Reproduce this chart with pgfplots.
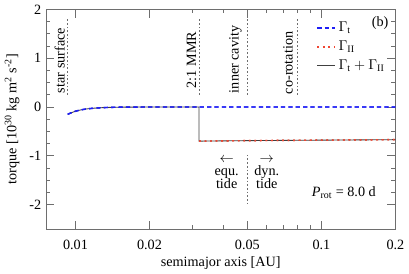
\documentclass[border=0pt]{standalone}
\usepackage{pgfplots}
\pgfplotsset{compat=1.18}
\usepackage{fontspec}
\setmainfont{Liberation Serif}
\definecolor{gblue}{RGB}{30,30,245}
\definecolor{gred}{RGB}{240,70,50}
\definecolor{axgray}{RGB}{110,110,110}
\begin{document}
\begin{tikzpicture}
\begin{axis}[
  scale only axis, width=246pt, height=154.6pt,
  xmode=log, xmin=0.0076, xmax=0.2, ymin=-2.5, ymax=2,
  xtick={0.01,0.02,0.05,0.1,0.2}, xticklabels={0.01,0.02,0.05,0.1,0.2},
  minor xtick={0.03,0.04,0.06,0.07,0.08,0.09},
  ytick={-2,-1,0,1,2}, yticklabels={-2,-1,0,1,2},
  minor y tick num=3,
  tick align=inside, major tick length=5.9pt, minor tick length=2.8pt,
  axis line style={axgray}, tick style={axgray, line width=0.5pt},
  /pgf/number format/assume math mode=true,
  xticklabel style={yshift=-4pt},
  xlabel={semimajor axis [AU]},
  xlabel style={yshift=2pt},
  ylabel={torque [10\textsuperscript{30} kg m\textsuperscript{2} s\textsuperscript{-2}]},
  legend style={draw=none, fill=none, at={(0.99,0.97)}, anchor=north east, row sep=1pt},
  legend cell align=left,
  legend image code/.code={\draw[#1] (0cm,0cm) -- (0.44cm,0cm);},
]
% vertical markers
\draw[axgray, line width=0.5pt, dash pattern=on 1.2pt off 1.4pt] (axis cs:0.0093,0.25) -- (axis cs:0.0093,1.8);
\draw[axgray, line width=0.5pt, dash pattern=on 1.2pt off 1.4pt] (axis cs:0.0318,0.25) -- (axis cs:0.0318,1.8);
\draw[axgray, line width=0.5pt, dash pattern=on 1.2pt off 1.4pt] (axis cs:0.05,0.25) -- (axis cs:0.05,1.8);
\draw[axgray, line width=0.5pt, dash pattern=on 1.2pt off 1.4pt] (axis cs:0.08,0.25) -- (axis cs:0.08,1.8);
\draw[axgray, line width=0.5pt, dash pattern=on 1.2pt off 1.4pt] (axis cs:0.05,-0.98) -- (axis cs:0.05,-2.02);
\node[rotate=90, anchor=base west, inner sep=0pt] at ([xshift=-2.1pt]axis cs:0.0093,0.28) {star surface};
\node[rotate=90, anchor=base west, inner sep=0pt] at ([xshift=-2.1pt]axis cs:0.0318,0.38) {2:1 MMR};
\node[rotate=90, anchor=base west, inner sep=0pt] at ([xshift=-6.2pt]axis cs:0.05,0.28) {inner cavity};
\node[rotate=90, anchor=base west, inner sep=0pt] at ([xshift=-3.5pt]axis cs:0.08,0.26) {co-rotation};
\node[align=center, font=\fontsize{10}{9.3}\selectfont] at (axis cs:0.0412,-1.35) {$\leftarrow$\\equ.\\tide};
\node[align=center, font=\fontsize{10}{9.3}\selectfont] at (axis cs:0.0600,-1.35) {$\rightarrow$\\dyn.\\tide};
\node at (axis cs:0.1234,-1.75) {\textit{P}\textsubscript{rot} = 8.0 d};
\node[anchor=north east, inner sep=1pt] at (axis description cs:0.985,0.975) {(b)};

\addplot[gblue, line width=1pt, dash pattern=on 3pt off 2.2pt] coordinates {
 (0.0093,-0.15) (0.0096,-0.12) (0.0100,-0.087) (0.0105,-0.060) (0.0111,-0.040)
 (0.0118,-0.026) (0.0127,-0.015) (0.0140,-0.007) (0.0160,-0.003) (0.0190,-0.001)
 (0.0250,0) (0.0318,0) (0.05,0) (0.1,0) (0.2,0)};
\addlegendentry{$\Gamma_\mathrm{t}$}
\addplot[gred, line width=1pt, dash pattern=on 1.3pt off 2.6pt] coordinates {
 (0.0318,-0.70) (0.04,-0.695) (0.05,-0.69) (0.07,-0.685) (0.1,-0.68) (0.14,-0.675) (0.2,-0.67)};
\addlegendentry{$\Gamma_\mathrm{II}$}
\addplot[black!75, line width=0.6pt] coordinates {
 (0.0093,-0.15) (0.0096,-0.12) (0.0100,-0.087) (0.0105,-0.060) (0.0111,-0.040)
 (0.0118,-0.026) (0.0127,-0.015) (0.0140,-0.007) (0.0160,-0.003) (0.0190,-0.001)
 (0.0250,0) (0.0318,0) (0.0318,-0.70) (0.04,-0.695) (0.05,-0.69) (0.07,-0.685) (0.1,-0.68) (0.14,-0.675) (0.2,-0.67)};
\addlegendentry{$\Gamma_\mathrm{t} + \Gamma_\mathrm{II}$}
% redraw coloured lines on top
\addplot[gblue, line width=1pt, dash pattern=on 3pt off 2.2pt, forget plot] coordinates {
 (0.0093,-0.15) (0.0096,-0.12) (0.0100,-0.087) (0.0105,-0.060) (0.0111,-0.040)
 (0.0118,-0.026) (0.0127,-0.015) (0.0140,-0.007) (0.0160,-0.003) (0.0190,-0.001)
 (0.0250,0) (0.0318,0) (0.05,0) (0.1,0) (0.2,0)};
\addplot[gred, line width=1pt, dash pattern=on 1.3pt off 2.6pt, forget plot] coordinates {
 (0.0318,-0.70) (0.04,-0.695) (0.05,-0.69) (0.07,-0.685) (0.1,-0.68) (0.14,-0.675) (0.2,-0.67)};
\end{axis}
\end{tikzpicture}
\end{document}
